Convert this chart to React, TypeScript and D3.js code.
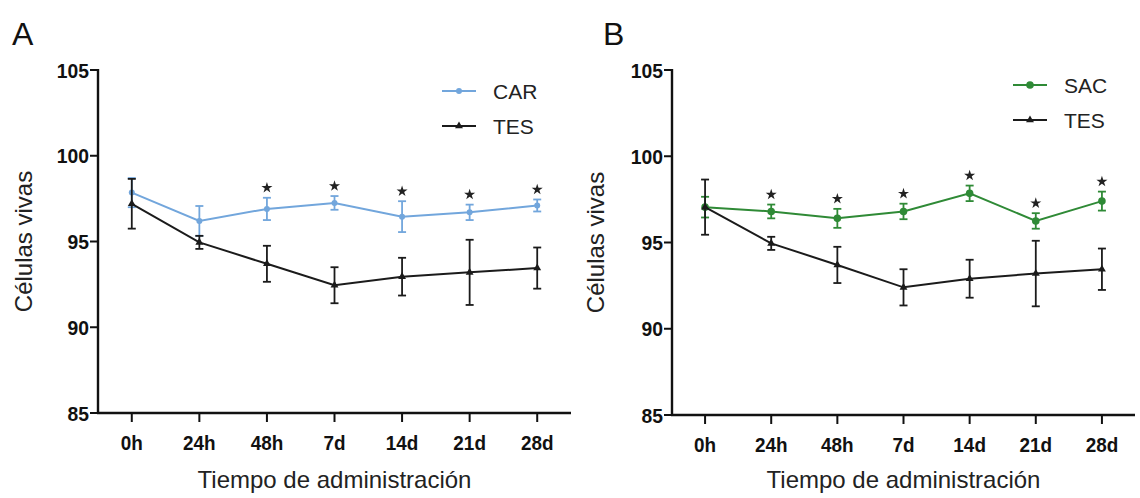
import React from "react";
import * as d3 from "d3";

const timeLabels = ["0h", "24h", "48h", "7d", "14d", "21d", "28d"];
const yTicks = [85, 90, 95, 100, 105];

const carMean = [97.85, 96.2, 96.9, 97.25, 96.45, 96.7, 97.1];
const carErr = [0.85, 0.87, 0.65, 0.4, 0.9, 0.45, 0.35];
const carStars = [false, false, true, true, true, true, true];

const tesMeanA = [97.2, 94.95, 93.7, 92.45, 92.95, 93.2, 93.45];
const tesErrA = [1.45, 0.38, 1.05, 1.05, 1.1, 1.9, 1.2];

const sacMean = [97.05, 96.8, 96.4, 96.8, 97.85, 96.25, 97.4];
const sacErr = [0.6, 0.4, 0.55, 0.45, 0.45, 0.45, 0.55];
const sacStars = [false, true, true, true, true, true, true];

const tesMeanB = [97.05, 94.95, 93.7, 92.4, 92.9, 93.2, 93.45];
const tesErrB = [1.6, 0.38, 1.05, 1.05, 1.1, 1.9, 1.2];

const CAR_COLOR = "#72a6dc";
const SAC_COLOR = "#2f8a36";
const TES_COLOR = "#1b1b1b";

type Series = { name: string; mean: number[]; err: number[]; color: string; marker: "circle" | "triangle"; stars?: boolean[]; r: number };

type PanelProps = {
  letter: string;
  letterX: number;
  x0: number;
  x1: number;
  yTop: number;
  yBottom: number;
  series: Series[];
  legendX: number;
  legendY: number;
  titleX: number;
};

const sans = "'Liberation Sans', Arial, Helvetica, sans-serif";

function Marker({ type, x, y, color, r }: { type: string; x: number; y: number; color: string; r: number }) {
  if (type === "circle") return <circle cx={x} cy={y} r={r} fill={color} />;
  const p = d3.symbol().type(d3.symbolTriangle).size(r * r * 3)();
  return <path d={p || ""} transform={`translate(${x},${y})`} fill={color} />;
}

function Panel(props: PanelProps) {
  const { x0, x1, yTop, yBottom } = props;
  const x = d3.scalePoint<string>().domain(timeLabels).range([x0, x1]).padding(0.5);
  const y = d3.scaleLinear().domain([85, 105]).range([yBottom, yTop]);
  const line = d3
    .line<number>()
    .x((_, i) => x(timeLabels[i]) as number)
    .y((d) => y(d));
  const star = d3.symbol().type(d3.symbolStar).size(38)();
  const cap = 4;
  return (
    <g>
      <text x={props.letterX} y={45} fontFamily={sans} fontSize={32} fill="#111">
        {props.letter}
      </text>
      {/* axes */}
      <line x1={x0} x2={x0} y1={yTop - 1} y2={yBottom + 1} stroke="#111" strokeWidth={2.4} />
      <line x1={x0 - 1} x2={x1} y1={yBottom} y2={yBottom} stroke="#111" strokeWidth={2.4} />
      {yTicks.map((t) => (
        <g key={t}>
          <line x1={x0 - 8} x2={x0} y1={y(t)} y2={y(t)} stroke="#111" strokeWidth={2} />
          <g transform={`translate(${x0 - 9},${y(t)}) scale(0.92,1)`}>
            <text dy="0.36em" textAnchor="end" fontFamily={sans} fontWeight="bold" fontSize={21} fill="#111">
              {t}
            </text>
          </g>
        </g>
      ))}
      {timeLabels.map((t) => (
        <g key={t}>
          <line x1={x(t)} x2={x(t)} y1={yBottom} y2={yBottom + 9} stroke="#111" strokeWidth={2} />
          <g transform={`translate(${x(t)},${yBottom + 37}) scale(0.9,1)`}>
            <text textAnchor="middle" fontFamily={sans} fontWeight="bold" fontSize={21} fill="#111">
              {t}
            </text>
          </g>
        </g>
      ))}
      <text x={(x0 + x1) / 2} y={488} textAnchor="middle" fontFamily={sans} fontSize={24} fill="#222">
        Tiempo de administración
      </text>
      <text
        transform={`translate(${props.titleX},${(yTop + yBottom) / 2}) rotate(-90)`}
        textAnchor="middle"
        fontFamily={sans}
        fontSize={24}
        fill="#222"
      >
        Células vivas
      </text>
      {/* series */}
      {props.series.map((s) => (
        <g key={s.name}>
          <path d={line(s.mean) || ""} fill="none" stroke={s.color} strokeWidth={2} />
          {s.mean.map((m, i) => {
            const cx = x(timeLabels[i]) as number;
            const top = y(m + s.err[i]);
            const bot = y(m - s.err[i]);
            return (
              <g key={i}>
                <line x1={cx} x2={cx} y1={top} y2={bot} stroke={s.color} strokeWidth={1.8} />
                <line x1={cx - cap} x2={cx + cap} y1={top} y2={top} stroke={s.color} strokeWidth={1.8} />
                <line x1={cx - cap} x2={cx + cap} y1={bot} y2={bot} stroke={s.color} strokeWidth={1.8} />
                <Marker type={s.marker} x={cx} y={y(m)} color={s.color} r={s.r} />
                {s.stars && s.stars[i] ? (
                  <path d={star || ""} transform={`translate(${cx},${top - 10})`} fill="#222" />
                ) : null}
              </g>
            );
          })}
        </g>
      ))}
      {/* legend */}
      {props.series.map((s, k) => {
        const ly = props.legendY + k * 35;
        const lx = props.legendX;
        return (
          <g key={s.name}>
            <line x1={lx} x2={lx + 34} y1={ly} y2={ly} stroke={s.color} strokeWidth={2} />
            <Marker type={s.marker} x={lx + 17} y={ly} color={s.color} r={s.r} />
            <text x={lx + 51} y={ly} dy="0.36em" fontFamily={sans} fontSize={21} fill="#222">
              {s.name}
            </text>
          </g>
        );
      })}
    </g>
  );
}

export default function App() {
  const seriesA: Series[] = [
    { name: "CAR", mean: carMean, err: carErr, color: CAR_COLOR, marker: "circle", stars: carStars, r: 3 },
    { name: "TES", mean: tesMeanA, err: tesErrA, color: TES_COLOR, marker: "triangle", r: 3 },
  ];
  const seriesB: Series[] = [
    { name: "SAC", mean: sacMean, err: sacErr, color: SAC_COLOR, marker: "circle", stars: sacStars, r: 3.8 },
    { name: "TES", mean: tesMeanB, err: tesErrB, color: TES_COLOR, marker: "triangle", r: 3 },
  ];
  return (
    <svg
      width={1140}
      height={498}
      style={{ position: "absolute", left: 0, top: 0, background: "#fff" }}
    >
      <rect width={1140} height={498} fill="#fff" />
      <Panel
        letter="A"
        letterX={12}
        x0={98}
        x1={571}
        yTop={70}
        yBottom={413}
        series={seriesA}
        legendX={442}
        legendY={91}
        titleX={32}
      />
      <Panel
        letter="B"
        letterX={603}
        x0={672}
        x1={1135}
        yTop={70}
        yBottom={415}
        series={seriesB}
        legendX={1013}
        legendY={85}
        titleX={604}
      />
    </svg>
  );
}
